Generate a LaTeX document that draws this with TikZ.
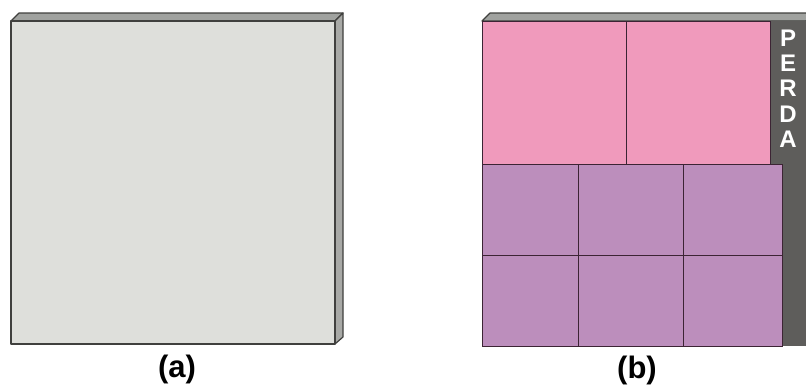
\documentclass[tikz,border=0pt]{standalone}
\usepackage{fontspec}
\setmainfont{Liberation Sans}
\usepackage{tikz}
\usetikzlibrary{positioning,calc}
\definecolor{boardfront}{RGB}{222,223,219}
\definecolor{boardtop}{RGB}{160,162,159}
\definecolor{boardside}{RGB}{168,169,166}
\definecolor{edgecolor}{RGB}{64,64,62}
\definecolor{pinkcolor}{RGB}{240,154,188}
\definecolor{purplecolor}{RGB}{188,142,188}
\definecolor{curtaincolor}{RGB}{94,93,91}
\definecolor{gridcolor}{RGB}{60,36,52}
\begin{document}
\begin{tikzpicture}[x=1pt,y=-1pt,
  face/.style={draw=edgecolor,line width=1.2pt,line join=round},
  cell/.style={draw=gridcolor,line width=0.9pt},
  lbl/.style={font=\fontsize{31}{33}\selectfont\bfseries},
  perda/.style={font=\fontsize{24}{26}\selectfont\bfseries,text=white,inner sep=0pt}]
\clip (0,0) rectangle (806,391);
% (a) plain board
\fill[boardtop,face](11,21)--(19,13)--(343,13)--(335,21)--cycle;
\fill[boardside,face](335,21)--(343,13)--(343,337)--(335,344)--cycle;
\fill[boardfront,face](11,21) rectangle (335,344);
\node[lbl](capa) at (177,369){(a)};
% (b) board with curtain
\fill[boardtop,face](482,21)--(490,13)--(814,13)--(806,21)--cycle;
\fill[curtaincolor](770,21) rectangle (806,346);
\fill[pinkcolor,cell](482,21) rectangle (770,164);
\draw[cell](626,21)--(626,164);
\fill[purplecolor,cell](482,164) rectangle (782,346);
\draw[cell](578,164)--(578,346); \draw[cell](683,164)--(683,346);
\draw[cell](482,255)--(782,255);
\foreach \ch [count=\i] in {P,E,R,D,A}
  \node[perda](perda\i) at (788,{13+25.2*\i}){\ch};
\node[lbl](capb) at (637,370){(b)};
\end{tikzpicture}
\end{document}
